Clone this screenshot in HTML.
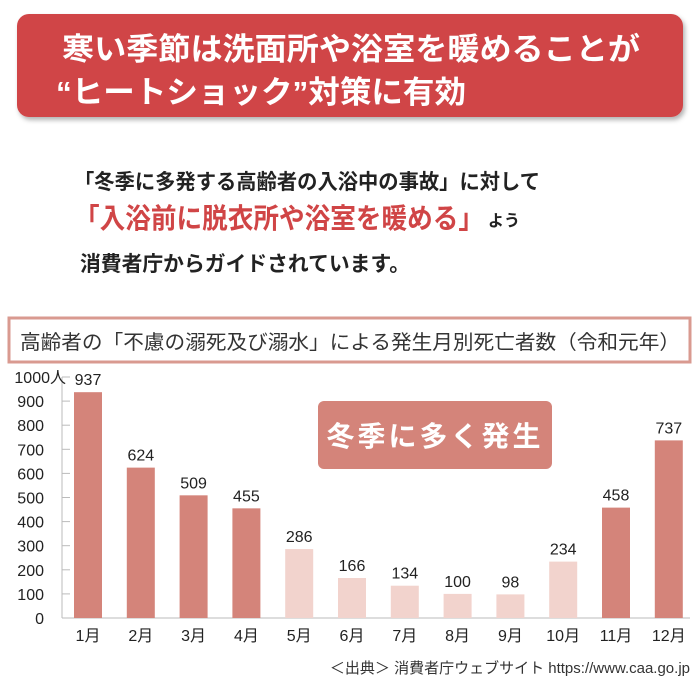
<!DOCTYPE html>
<html><head><meta charset="utf-8"><style>
html,body{margin:0;padding:0;background:#fff;width:700px;height:700px;overflow:hidden}
svg text{font-family:"Liberation Sans","Noto Sans CJK JP",sans-serif}
</style></head><body>
<svg id="chart" width="700" height="700" viewBox="0 0 700 700" xmlns="http://www.w3.org/2000/svg">
<defs><filter id="sh" x="-5%" y="-10%" width="110%" height="130%"><feDropShadow dx="2" dy="3" stdDeviation="2.5" flood-color="#000" flood-opacity="0.3"/></filter></defs>
<g>
<rect x="17" y="14" width="666" height="103" rx="12" fill="#d04546" filter="url(#sh)"/>
<text x="62" y="60" font-size="31" font-weight="bold" fill="#fff" textLength="578" lengthAdjust="spacingAndGlyphs">寒い季節は洗面所や浴室を暖めることが</text>
<text x="56" y="103" font-size="31" font-weight="bold" fill="#fff" textLength="410" lengthAdjust="spacingAndGlyphs">“ヒートショック”対策に有効</text>
</g>
<g>
<text x="74" y="189" font-size="21" font-weight="bold" fill="#222" textLength="466" lengthAdjust="spacingAndGlyphs">「冬季に多発する高齢者の入浴中の事故」に対して</text>
<text x="74" y="228" font-size="28" font-weight="bold" fill="#d04546" textLength="410" lengthAdjust="spacingAndGlyphs">「入浴前に脱衣所や浴室を暖める」</text>
<text x="488" y="226" font-size="16" font-weight="bold" fill="#222">よう</text>
<text x="80" y="271" font-size="21" font-weight="bold" fill="#222" textLength="330" lengthAdjust="spacingAndGlyphs">消費者庁からガイドされています。</text>
</g>
<g>
<rect x="9" y="318" width="681" height="44" fill="#fff" stroke="#d99a90" stroke-width="3"/>
<text x="20" y="349" font-size="20" fill="#333" textLength="660" lengthAdjust="spacingAndGlyphs">高齢者の「不慮の溺死及び溺水」による発生月別死亡者数（令和元年）</text>
</g>
<g id="axes"></g>
<g id="bars"></g>
<g>
<rect x="318" y="401" width="234" height="68" rx="6" fill="#d4847a"/>
<text x="435" y="446" font-size="28" font-weight="bold" fill="#fff" text-anchor="middle" letter-spacing="3">冬季に多く発生</text>
</g>
<text x="690" y="673" font-size="15" fill="#333" text-anchor="end">＜出典＞ 消費者庁ウェブサイト https://www.caa.go.jp</text>
</svg>
<script>
const categories=["1月","2月","3月","4月","5月","6月","7月","8月","9月","10月","11月","12月"];
const values=[937,624,509,455,286,166,134,100,98,234,458,737];
const winter=[true,true,true,true,false,false,false,false,false,false,true,true];
const yTicks=[0,100,200,300,400,500,600,700,800,900,1000];
const tickLabels=["0","100","200","300","400","500","600","700","800","900","1000人"];
const NS="http://www.w3.org/2000/svg";
const y0=618,yTop=377,yMax=1000;
function yScale(v){return y0-(v/yMax)*(y0-yTop);}
function xCenter(i){return 88+i*52.8;}
function mk(t,a,p){const e=document.createElementNS(NS,t);for(const k in a)e.setAttribute(k,a[k]);p.appendChild(e);return e;}
const ax=document.getElementById('axes'),bg=document.getElementById('bars');
const yl=mk('line',{x1:62,y1:yTop,x2:62,y2:y0,stroke:'#bbb','stroke-width':1},ax);


const xl=mk('line',{x1:62,y1:y0,x2:690,y2:y0,stroke:'#bbb','stroke-width':1},ax);


yTicks.forEach((v,i)=>{
 const y=yScale(v);
 const tk=mk('line',{x1:62,y1:y,x2:70,y2:y,stroke:'#bbb','stroke-width':1},ax);
 
 
 const t=mk('text',{x:i===10?58:44,y:y+6,'font-size':16,fill:'#222','text-anchor':'end'},ax);
 
 
 if(i===10){t.setAttribute('x',66);}
 t.textContent=tickLabels[i];
});
categories.forEach((c,i)=>{
 const cx=xCenter(i),y=yScale(values[i]);
 const r=mk('rect',{x:cx-14,y:y,width:28,height:y0-y,fill:winter[i]?'#d4847a':'#f2d3cd'},bg);
 
 
 const vl=mk('text',{x:cx,y:y-7,'font-size':16,fill:'#222','text-anchor':'middle'},bg);
 
 
 vl.textContent=values[i];
 const xl2=mk('text',{x:cx,y:641,'font-size':16,fill:'#222','text-anchor':'middle'},ax);
 
 
 xl2.textContent=c;
});
</script>
</body></html>
